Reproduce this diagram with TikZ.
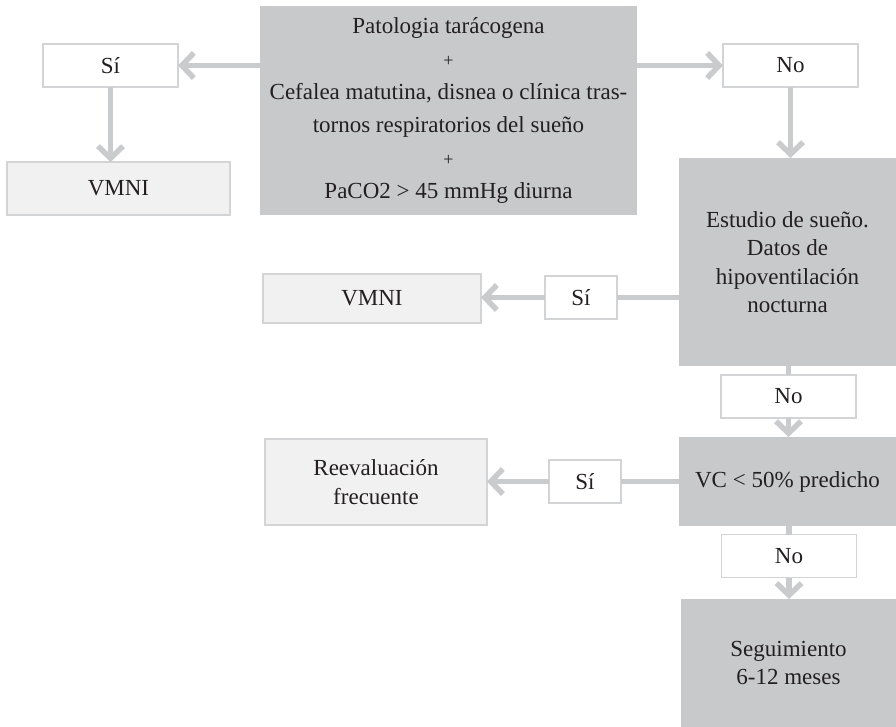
\documentclass[tikz,border=0pt]{standalone}
\usepackage{fontspec}
\setmainfont{Liberation Serif}
\usetikzlibrary{arrows.meta}

\definecolor{boxgray}{HTML}{C8C9CB}
\definecolor{boxlight}{HTML}{F1F1F2}
\definecolor{edgegray}{HTML}{D3D4D6}
\definecolor{linkgray}{HTML}{CACBCD}
\definecolor{ink}{HTML}{231F20}

\tikzset{
  base/.style={inner sep=0pt, outer sep=0pt, align=center, text=ink,
    font=\fontsize{23}{28.5}\selectfont},
  darkbox/.style={base, fill=boxgray},
  lightbox/.style={base, fill=boxlight, draw=edgegray, line width=1.3pt},
  answer/.style={base, fill=white, draw=edgegray, line width=1.3pt,
    minimum width=135pt, minimum height=43pt},
  link/.style={draw=linkgray, line width=5.5pt},
  arr/.style={link, -{Straight Barb[length=12pt, width=25pt]}},
}

\begin{document}
\begin{tikzpicture}[x=1pt, y=-1pt]
  \useasboundingbox (0,0) rectangle (896,727);

  % top condition block
  \node[darkbox, minimum width=377pt, minimum height=209pt,
        font=\fontsize{23}{33}\selectfont] (cond) at (448.5,110.5)
    {Patologia tarácogena\\
     {\fontsize{18}{33}\selectfont +}\\
     Cefalea matutina, disnea o clínica tras-\\
     tornos respiratorios del sueño\\
     {\fontsize{18}{33}\selectfont +}\\
     PaCO2 > 45 mmHg diurna};

  % left branch
  \node[answer] (si1) at (110.5,65.5) {Sí};
  \node[lightbox, minimum width=223pt, minimum height=53pt] (vmni1) at (118.5,188.5) {VMNI};

  % right column
  \node[answer] (no1) at (790.5,65.5) {No};
  \node[darkbox, minimum width=217pt, minimum height=208pt] (study) at (787.5,262)
    {Estudio de sueño.\\ Datos de\\ hipoventilación\\ nocturna};
  \node[answer, minimum width=72pt] (si2) at (581,297.5) {Sí};
  \node[lightbox, minimum width=218pt, minimum height=49pt] (vmni2) at (372,298.5) {VMNI};

  \node[answer] (no2) at (788.5,396.5) {No};
  \node[darkbox, minimum width=217pt, minimum height=89pt] (vc) at (787.5,481.5)
    {VC < 50\% predicho};
  \node[answer, minimum width=72pt] (si3) at (585,481.5) {Sí};
  \node[lightbox, minimum width=222pt, minimum height=86pt] (reev) at (376,482)
    {Reevaluación\\ frecuente};

  \node[answer] (no3) at (789,556) {No};
  \node[darkbox, minimum width=215pt, minimum height=128pt] (seg) at (788.5,663)
    {Seguimiento\\ 6-12 meses};

  % connectors
  \draw[arr] (si1.east -| cond.west) -- (si1.east);
  \draw[arr] (si1.south) -- (si1.south |- vmni1.north);
  \draw[arr] (no1.west -| cond.east) -- (no1.west);
  \draw[arr] (no1.south) -- (no1.south |- study.north);

  \draw[link] (si2.east -| study.west) -- (si2.east);
  \draw[arr] (si2.west) -- (si2.west -| vmni2.east);
  \draw[link] (study.south -| no2.north) -- (no2.north);
  \draw[arr] (no2.south) -- (no2.south |- vc.north);

  \draw[link] (si3.east -| vc.west) -- (si3.east);
  \draw[arr] (si3.west) -- (si3.west -| reev.east);
  \draw[link] (vc.south -| no3.north) -- (no3.north);
  \draw[arr] (no3.south) -- (no3.south |- seg.north);
\end{tikzpicture}
\end{document}
